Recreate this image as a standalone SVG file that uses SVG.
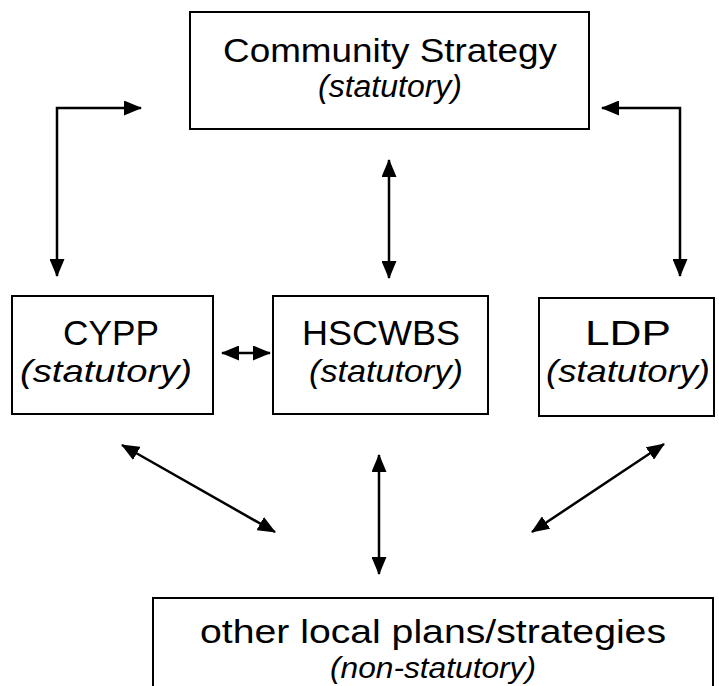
<svg xmlns="http://www.w3.org/2000/svg" width="719" height="686" viewBox="0 0 719 686">
<style>
.box{fill:#fff;stroke:#000;stroke-width:2}
.t{font-family:"Liberation Sans",Arial,sans-serif;fill:#000;text-anchor:middle}
.m{font-size:35px}
.s{font-size:32px;font-style:italic}
.c{fill:none;stroke:#000;stroke-width:2.5}
</style>
<defs>
<marker id="ah" markerWidth="18" markerHeight="15" refX="17" refY="7.5" orient="auto-start-reverse" markerUnits="userSpaceOnUse">
<path d="M0,0 L18,7.5 L0,15 Z" fill="#000"/>
</marker>
</defs>
<g id="community">
<rect class="box" x="190" y="12" width="399" height="117"/>
<text class="t" style="font-size:34px" x="390" y="62" textLength="334" lengthAdjust="spacingAndGlyphs">Community Strategy</text>
<text class="t" style="font-size:31px;font-style:italic" x="390" y="97" textLength="144" lengthAdjust="spacingAndGlyphs">(statutory)</text>
</g>
<g id="cypp">
<rect class="box" x="12" y="296" width="201" height="118"/>
<text class="t m" x="111" y="345" textLength="96" lengthAdjust="spacingAndGlyphs">CYPP</text>
<text class="t s" x="106" y="382" textLength="172" lengthAdjust="spacingAndGlyphs">(statutory)</text>
</g>
<g id="hscwbs">
<rect class="box" x="273" y="296" width="215" height="118"/>
<text class="t m" x="381" y="345" textLength="158" lengthAdjust="spacingAndGlyphs">HSCWBS</text>
<text class="t s" x="386" y="382" textLength="154" lengthAdjust="spacingAndGlyphs">(statutory)</text>
</g>
<g id="ldp">
<rect class="box" x="539" y="298" width="175" height="118"/>
<text class="t m" x="628" y="345" textLength="86" lengthAdjust="spacingAndGlyphs">LDP</text>
<text class="t s" x="628" y="382" textLength="164" lengthAdjust="spacingAndGlyphs">(statutory)</text>
</g>
<g id="other">
<rect class="box" x="153" y="598" width="560" height="100"/>
<text class="t" style="font-size:34px" x="433" y="643" textLength="466" lengthAdjust="spacingAndGlyphs">other local plans/strategies</text>
<text class="t" style="font-size:30px;font-style:italic" x="433" y="678" textLength="206" lengthAdjust="spacingAndGlyphs">(non-statutory)</text>
</g>
<g id="connectors">
<path class="c" d="M57,276 L57,108 L141,108" marker-start="url(#ah)" marker-end="url(#ah)"/>
<path class="c" d="M680,276 L680,108 L602,108" marker-start="url(#ah)" marker-end="url(#ah)"/>
<path class="c" d="M389,160 L389,278" marker-start="url(#ah)" marker-end="url(#ah)"/>
<path class="c" d="M222,353 L270,353" marker-start="url(#ah)" marker-end="url(#ah)"/>
<path class="c" d="M122,445 L275,532" marker-start="url(#ah)" marker-end="url(#ah)"/>
<path class="c" d="M379,455 L379,574" marker-start="url(#ah)" marker-end="url(#ah)"/>
<path class="c" d="M664,444 L532,532" marker-start="url(#ah)" marker-end="url(#ah)"/>
</g>
</svg>
